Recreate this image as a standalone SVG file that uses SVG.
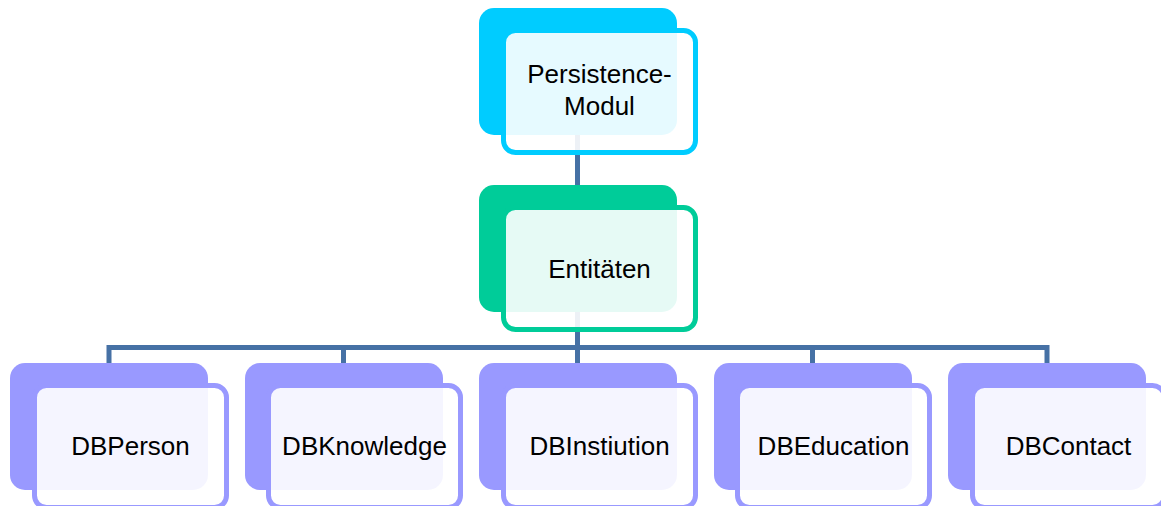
<svg xmlns="http://www.w3.org/2000/svg" width="1161" height="506" viewBox="0 0 1161 506">
  <style>
    .back { stroke: none; }
    .front { fill: #ffffff; fill-opacity: 0.9; stroke-width: 5; }
    .cyan .back { fill: #00CCFF; }
    .cyan .front { stroke: #00CCFF; }
    .green .back { fill: #00CC99; }
    .green .front { stroke: #00CC99; }
    .violet .back { fill: #9999FF; }
    .violet .front { stroke: #9999FF; }
    .label { font-family: "Liberation Sans", Arial, sans-serif; font-size: 26px; fill: #000000; text-anchor: middle; }
    .link { fill: none; stroke: #4671A5; stroke-width: 5; stroke-linejoin: miter; }
  </style>

  <!-- connectors, drawn beneath the nodes -->
  <g id="connectors">
    <path class="link" d="M577.5,135 V185"/>
    <path class="link" d="M577.5,311 V347.5"/>
    <path class="link" d="M109,363 V347.5 H1047 V363"/>
    <path class="link" d="M343.5,347.5 V363"/>
    <path class="link" d="M577.5,347.5 V363"/>
    <path class="link" d="M812.5,347.5 V363"/>
  </g>

  <!-- root -->
  <g id="node-persistence" class="cyan">
    <rect class="back" x="479" y="8" width="198" height="127" rx="15"/>
    <rect class="front" x="503.5" y="30.5" width="192" height="122" rx="12"/>
    <text class="label" x="599.5" y="83">Persistence-</text>
    <text class="label" x="599.5" y="115">Modul</text>
  </g>

  <!-- second level -->
  <g id="node-entitaeten" class="green">
    <rect class="back" x="479" y="185" width="198" height="127" rx="15"/>
    <rect class="front" x="503.5" y="207.5" width="192" height="122" rx="12"/>
    <text class="label" x="599.5" y="278">Entitäten</text>
  </g>

  <!-- entity leaves -->
  <g id="node-dbperson" class="violet">
    <rect class="back" x="10" y="363" width="198" height="127" rx="15"/>
    <rect class="front" x="34.5" y="385.5" width="192" height="122" rx="12"/>
    <text class="label" x="130.5" y="455">DBPerson</text>
  </g>

  <g id="node-dbknowledge" class="violet">
    <rect class="back" x="245" y="363" width="198" height="127" rx="15"/>
    <rect class="front" x="268.5" y="385.5" width="192" height="122" rx="12"/>
    <text class="label" x="364.5" y="455">DBKnowledge</text>
  </g>

  <g id="node-dbinstiution" class="violet">
    <rect class="back" x="479" y="363" width="198" height="127" rx="15"/>
    <rect class="front" x="503.5" y="385.5" width="192" height="122" rx="12"/>
    <text class="label" x="599.5" y="455">DBInstiution</text>
  </g>

  <g id="node-dbeducation" class="violet">
    <rect class="back" x="714" y="363" width="198" height="127" rx="15"/>
    <rect class="front" x="737.5" y="385.5" width="192" height="122" rx="12"/>
    <text class="label" x="833.5" y="455">DBEducation</text>
  </g>

  <g id="node-dbcontact" class="violet">
    <rect class="back" x="948" y="363" width="198" height="127" rx="15"/>
    <rect class="front" x="972.5" y="385.5" width="192" height="122" rx="12"/>
    <text class="label" x="1068.5" y="455">DBContact</text>
  </g>
</svg>
